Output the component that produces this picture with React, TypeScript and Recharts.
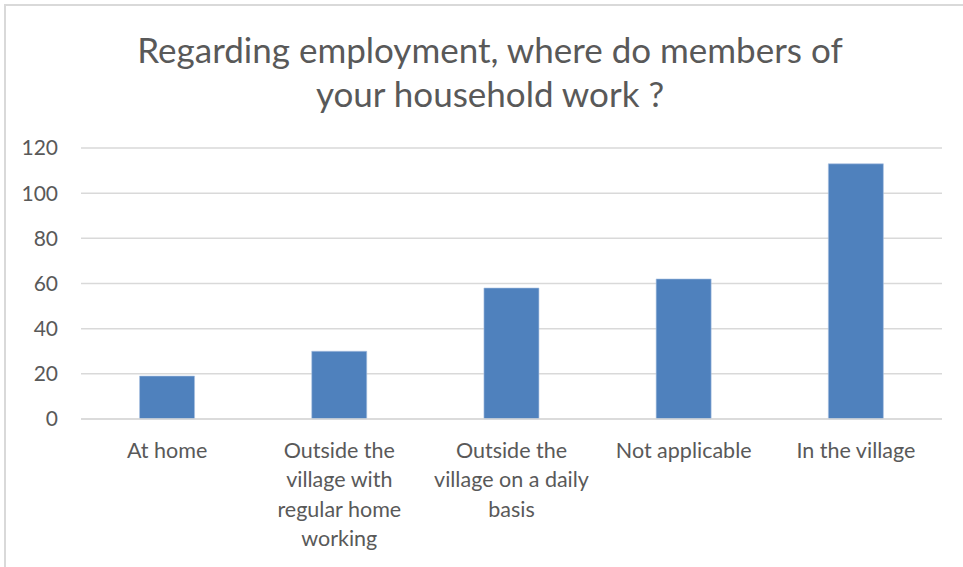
import { Bar, BarChart, CartesianGrid, XAxis, YAxis } from "recharts";

const titleLines = ["Regarding employment, where do members of", "your household work ?"];

const categories = [
  "At home",
  "Outside the\nvillage with\nregular home\nworking",
  "Outside the\nvillage on a daily\nbasis",
  "Not applicable",
  "In the village",
];

const counts = [19, 30, 58, 62, 113];

const yTicks = [0, 20, 40, 60, 80, 100, 120];

const data = categories.map((name, i) => ({ name, value: counts[i] }));

const FONT = "Lato, 'Open Sans', sans-serif";
const TEXT = "#595959";

function CategoryTick(props: any) {
  const { x, y, payload } = props;
  const lines = String(payload.value).split("\n");
  return (
    <text x={x} y={y + 31} textAnchor="middle" fill={TEXT} fontSize={21.5} fontFamily={FONT}>
      {lines.map((line, i) => (
        <tspan key={i} x={x} dy={i === 0 ? 0 : 29.3}>
          {line}
        </tspan>
      ))}
    </text>
  );
}

export default function App() {
  return (
    <div
      style={{
        position: "absolute",
        left: 0,
        top: 0,
        width: 963,
        height: 567,
        background: "#fff",
        overflow: "hidden",
      }}
    >
      <div
        style={{
          position: "absolute",
          left: 4,
          top: 4,
          width: 980,
          height: 600,
          borderLeft: "2px solid #d9d9d9",
          borderTop: "2px solid #d9d9d9",
        }}
      />
      <div
        style={{
          position: "absolute",
          left: 0,
          top: 27,
          width: 980,
          textAlign: "center",
          fontFamily: FONT,
          fontSize: 35,
          lineHeight: "44px",
          color: TEXT,
        }}
      >
        {titleLines.map((line) => (
          <div key={line}>{line}</div>
        ))}
      </div>
      <div style={{ position: "absolute", left: 0, top: 0 }}>
        <BarChart
          width={963}
          height={567}
          data={data}
          margin={{ top: 148, right: 21, left: 0, bottom: 118 }}
          barCategoryGap="34%"
        >
          <CartesianGrid horizontal vertical={false} stroke="#d9d9d9" strokeWidth={1.5} />
          <XAxis
            dataKey="name"
            interval={0}
            tickLine={false}
            axisLine={{ stroke: "#d9d9d9", strokeWidth: 1.5 }}
            tick={<CategoryTick />}
          />
          <YAxis
            domain={[0, 120]}
            ticks={yTicks}
            width={81}
            tickLine={false}
            axisLine={false}
            tickSize={0}
            tickMargin={23}
            tick={{ fill: TEXT, fontSize: 21, fontFamily: FONT }}
          />
          <Bar dataKey="value" fill="#4f81bd" stroke="#a9c1e0" strokeWidth={0.6} isAnimationActive={false} />
        </BarChart>
      </div>
    </div>
  );
}
